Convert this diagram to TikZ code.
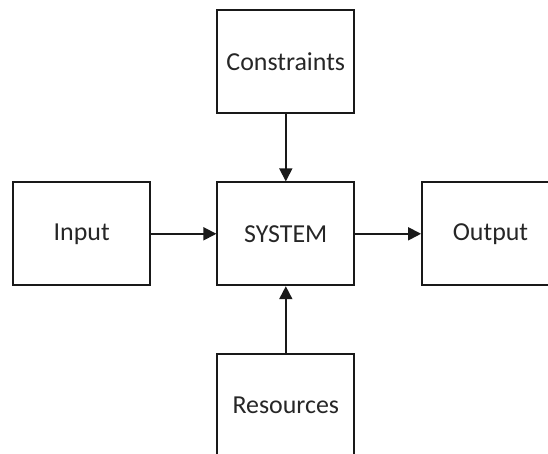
\documentclass[tikz,border=0pt]{standalone}
\usepackage{fontspec}
\setmainfont{Carlito}
\usetikzlibrary{arrows.meta}
\begin{document}
\begin{tikzpicture}[x=1bp,y=-1bp,
  blk/.style={draw=black!90, line width=1.8bp, minimum width=137bp, minimum height=103bp, inner sep=0pt,
    font=\fontsize{25.9bp}{31bp}\selectfont, text=black!85},
  arr/.style={line width=1.8bp, draw=black!90, -{Triangle[length=13bp,width=13bp]}}]
\useasboundingbox (0,0) rectangle (548,454);
\clip (0,0) rectangle (548,454);
\node[blk] (con) at (285.8,61.7) {Constraints};
\node[blk] (sys) at (285.8,233.8) {SYSTEM};
\node[blk] (inp) at (81.7,233.8) {Input};
\node[blk] (out) at (490.5,233.8) {Output};
\node[blk] (res) at (285.8,405.5) {Resources};
\draw[arr] (con) -- (sys);
\draw[arr] (inp) -- (sys);
\draw[arr] (sys) -- (out);
\draw[arr] (res) -- (sys);
\end{tikzpicture}
\end{document}
